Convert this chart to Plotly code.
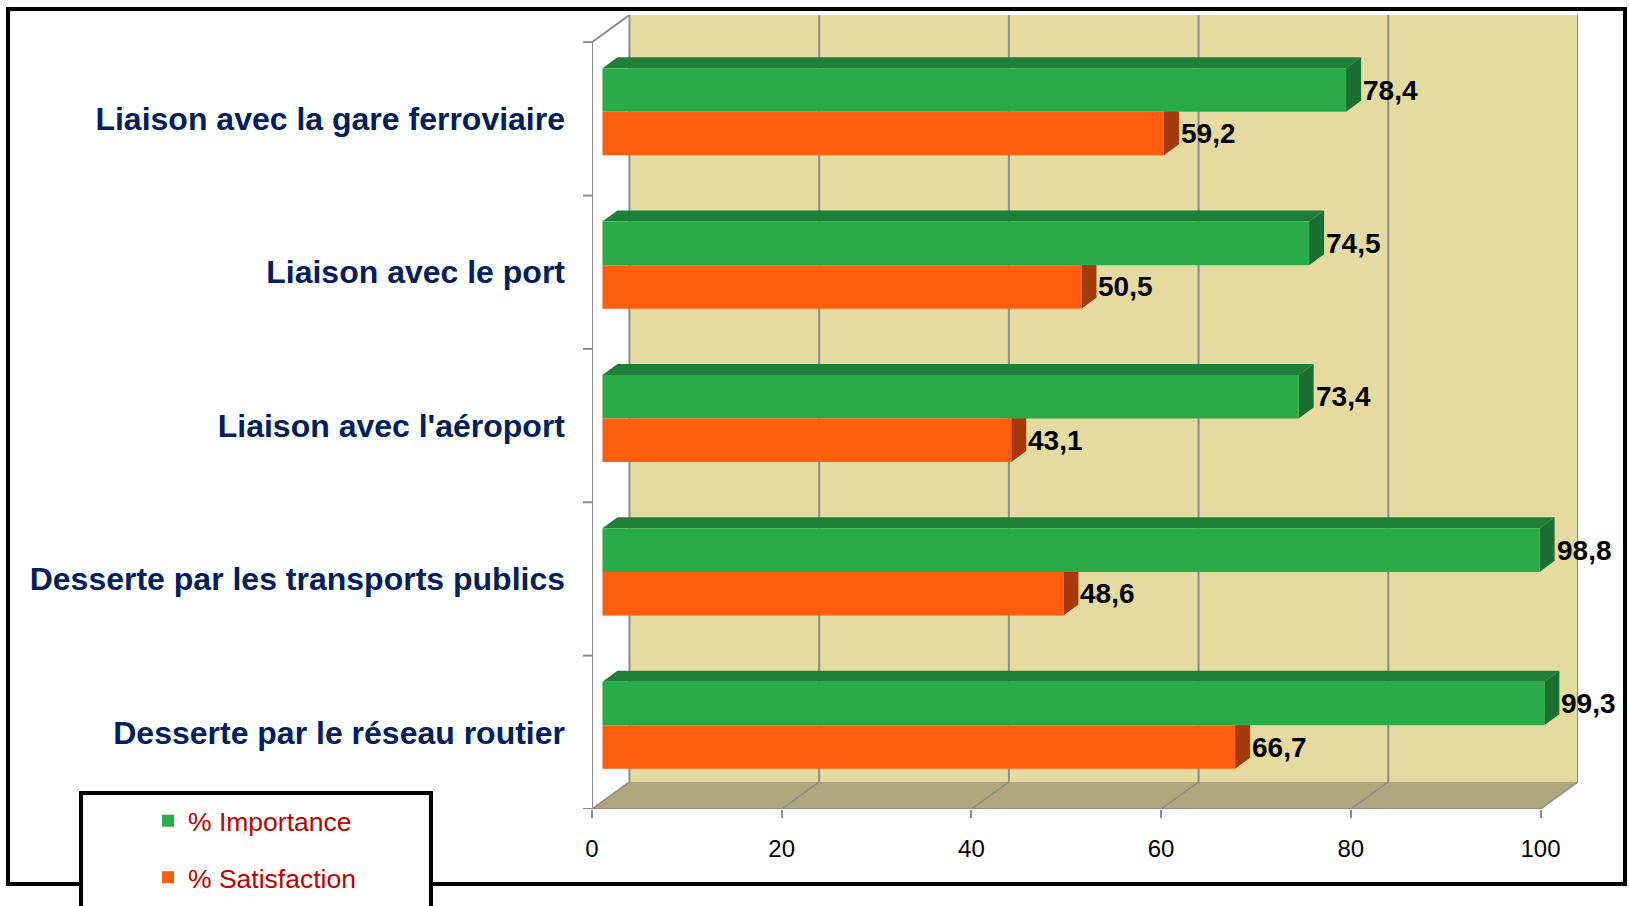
import plotly.graph_objects as go

# ---------------- data ----------------
categories = [
    "Desserte par le réseau routier",
    "Desserte par les transports publics",
    "Liaison avec l'aéroport",
    "Liaison avec le port",
    "Liaison avec la gare ferroviaire",
]
importance = [99.3, 98.8, 73.4, 74.5, 78.4]
satisfaction = [66.7, 48.6, 43.1, 50.5, 59.2]
series_names = ["% Importance", "% Satisfaction"]
x_ticks = [0, 20, 40, 60, 80, 100]

# ---------------- style ----------------
W, H = 1629, 906
ML, MR, MT, MB = 592, 51, 15, 97
WALL_DX = 3.95      # depth of back wall, x units
WALL_DY = 0.177     # depth of back wall, category units
X_MAX = 100 + WALL_DX
Y_MIN, Y_MAX = -0.5, len(categories) - 0.5 + WALL_DY

BAR_X0 = 1.1        # bars sit slightly inside the depth
BAR_W = 0.284
BAR_UP = 0.046
SIDE_DX = 1.58
SIDE_DY = 0.072

GREEN, GREEN_TOP, GREEN_SIDE = "#29AC48", "#1E8038", "#1B6F30"
ORANGE, ORANGE_SIDE = "#FF5E0E", "#A53A0A"
WALL, FLOOR, GRID = "#E5DBA1", "#AFA67D", "#8C8C8C"
LABEL_FONT = "Liberation Sans, Arial, sans-serif"

pw = W - ML - MR
ph = H - MT - MB


def px2paper_x(px):
    return (px - ML) / pw


def px2paper_y(py):
    return (H - MB - py) / ph


pos = list(range(len(categories)))

fig = go.Figure()
fig.add_trace(go.Bar(
    name=series_names[0], y=pos, x=importance, base=BAR_X0, orientation="h",
    offset=BAR_UP, width=BAR_W, marker=dict(color=GREEN, line=dict(width=0)),
    legendgroup="a", hoverinfo="skip",
))
fig.add_trace(go.Bar(
    name=series_names[1], y=pos, x=satisfaction, base=BAR_X0, orientation="h",
    offset=BAR_UP - BAR_W, width=BAR_W, marker=dict(color=ORANGE, line=dict(width=0)),
    legendgroup="b", hoverinfo="skip",
))

shapes = []
# back wall
shapes.append(dict(type="rect", xref="x", yref="y", x0=WALL_DX, x1=100 + WALL_DX,
                   y0=-0.5 + WALL_DY, y1=len(categories) - 0.5 + WALL_DY,
                   fillcolor=WALL, line=dict(width=0), layer="below"))
# floor
shapes.append(dict(type="path", xref="x", yref="y",
                   path=f"M0,-0.5 L100,-0.5 L{100 + WALL_DX},{-0.5 + WALL_DY} L{WALL_DX},{-0.5 + WALL_DY} Z",
                   fillcolor=FLOOR, line=dict(width=0), layer="below"))
# gridlines on wall and floor
for v in x_ticks:
    shapes.append(dict(type="line", xref="x", yref="y", x0=v + WALL_DX, x1=v + WALL_DX,
                       y0=-0.5 + WALL_DY, y1=len(categories) - 0.5 + WALL_DY,
                       line=dict(color=GRID, width=2), layer="below"))
    shapes.append(dict(type="line", xref="x", yref="y", x0=v, x1=v + WALL_DX,
                       y0=-0.5, y1=-0.5 + WALL_DY,
                       line=dict(color=GRID, width=1.5), layer="below"))
# front axis line and left axis
shapes.append(dict(type="line", xref="x", yref="y", x0=0, x1=100, y0=-0.5, y1=-0.5,
                   line=dict(color=GRID, width=2), layer="below"))
shapes.append(dict(type="line", xref="x", yref="y", x0=0, x1=0, y0=-0.5,
                   y1=len(categories) - 0.5, line=dict(color=GRID, width=2), layer="below"))
shapes.append(dict(type="line", xref="x", yref="y", x0=0, x1=WALL_DX,
                   y0=len(categories) - 0.5, y1=len(categories) - 0.5 + WALL_DY,
                   line=dict(color=GRID, width=2), layer="below"))
# category boundary ticks
for i in range(len(categories) + 1):
    b = i - 0.5
    shapes.append(dict(type="line", xref="paper", yref="y", x0=px2paper_x(ML - 9), x1=0,
                       y0=b, y1=b, line=dict(color=GRID, width=2), layer="below"))

# 3D faces of bars
for p, gi, sa in zip(pos, importance, satisfaction):
    # orange side face
    e = BAR_X0 + sa
    yt, yb = p + BAR_UP, p + BAR_UP - BAR_W
    shapes.append(dict(type="path", xref="x", yref="y",
                       path=f"M{e},{yt} L{e + SIDE_DX},{yt + SIDE_DY} L{e + SIDE_DX},{yb + SIDE_DY} L{e},{yb} Z",
                       fillcolor=ORANGE_SIDE, line=dict(width=0), layer="below"))
    # green top face
    e = BAR_X0 + gi
    yt, yb = p + BAR_UP + BAR_W, p + BAR_UP
    shapes.append(dict(type="path", xref="x", yref="y",
                       path=f"M{BAR_X0},{yt} L{BAR_X0 + SIDE_DX},{yt + SIDE_DY} L{e + SIDE_DX},{yt + SIDE_DY} L{e},{yt} Z",
                       fillcolor=GREEN_TOP, line=dict(width=0), layer="below"))
    shapes.append(dict(type="path", xref="x", yref="y",
                       path=f"M{e},{yt} L{e + SIDE_DX},{yt + SIDE_DY} L{e + SIDE_DX},{yb + SIDE_DY} L{e},{yb} Z",
                       fillcolor=GREEN_SIDE, line=dict(width=0), layer="below"))

# outer border
shapes.append(dict(type="rect", xref="paper", yref="paper",
                   x0=px2paper_x(8), x1=px2paper_x(1625), y0=px2paper_y(884), y1=px2paper_y(9),
                   line=dict(color="black", width=4), fillcolor="rgba(0,0,0,0)", layer="above"))
# legend box
shapes.append(dict(type="rect", xref="paper", yref="paper",
                   x0=px2paper_x(81), x1=px2paper_x(431), y0=px2paper_y(940), y1=px2paper_y(793),
                   line=dict(color="black", width=4), fillcolor="white", layer="above"))

# data labels
annotations = []
for p, gi, sa in zip(pos, importance, satisfaction):
    for val, yc in ((gi, p + BAR_UP + BAR_W / 2), (sa, p + BAR_UP - BAR_W / 2)):
        annotations.append(dict(
            x=BAR_X0 + val + SIDE_DX, y=yc, xref="x", yref="y",
            text=f"{val:.1f}".replace(".", ","), showarrow=False,
            xanchor="left", yanchor="middle", xshift=0,
            font=dict(family=LABEL_FONT, size=28, color="black", weight="bold"),
        ))

fig.update_layout(
    width=W, height=H,
    margin=dict(l=ML, r=MR, t=MT, b=MB, pad=0, autoexpand=False),
    paper_bgcolor="white", plot_bgcolor="white",
    barmode="overlay",
    shapes=shapes, annotations=annotations,
    showlegend=True,
    legend=dict(
        x=px2paper_x(148), y=px2paper_y(797), xanchor="left", yanchor="top",
        bgcolor="rgba(0,0,0,0)", borderwidth=0,
        font=dict(family=LABEL_FONT, size=26.5, color="#C00000"),
        traceorder="grouped", tracegroupgap=19,
    ),
    xaxis=dict(
        range=[0, X_MAX], tickvals=x_ticks, ticktext=[str(v) for v in x_ticks],
        showgrid=False, zeroline=False, showline=False, automargin=False,
        ticks="outside", ticklen=8, tickwidth=2, tickcolor=GRID,
        tickfont=dict(family=LABEL_FONT, size=24, color="black"),
        ticklabelstandoff=10,
    ),
    yaxis=dict(
        range=[Y_MIN, Y_MAX], tickvals=pos, ticktext=categories,
        showgrid=False, zeroline=False, showline=False, ticks="", automargin=False,
        tickfont=dict(family=LABEL_FONT, size=32, color="#002060", weight="bold"),
        ticklabelstandoff=26,
    ),
)

fig.write_html(
    "out.html",
    config={"displayModeBar": False},
    post_script=(
        "document.documentElement.style.margin='0';"
        "document.documentElement.style.overflow='hidden';"
        "document.body.style.margin='0';"
        "document.body.style.overflow='hidden';"
    ),
)
